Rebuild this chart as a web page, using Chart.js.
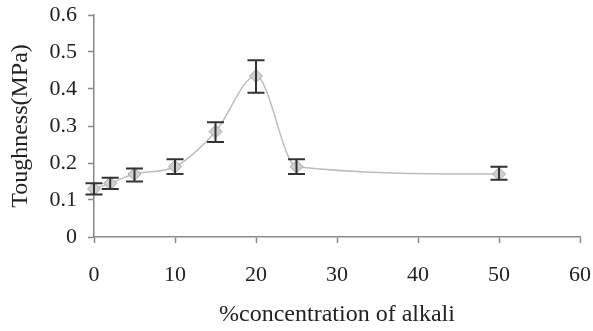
<!DOCTYPE html>
<html><head><meta charset="utf-8">
<script src="https://cdn.jsdelivr.net/npm/chart.js@4/dist/chart.umd.min.js"></script>
<style>html,body{margin:0;padding:0;background:#fff}#wrap{width:593px;height:331px}</style>
</head><body><div id="wrap"><canvas id="c" width="593" height="331"></canvas></div>
<script>
const concentration = [0, 2, 5, 10, 15, 20, 25, 50];
const toughness = [0.13, 0.145, 0.17, 0.19, 0.285, 0.435, 0.19, 0.17];
const errHigh = [0.145, 0.16, 0.185, 0.21, 0.31, 0.478, 0.21, 0.19];
const errLow = [0.115, 0.13, 0.15, 0.17, 0.257, 0.39, 0.17, 0.155];
const xTicks = [0, 10, 20, 30, 40, 50, 60];
const yTicks = [0, 0.1, 0.2, 0.3, 0.4, 0.5, 0.6];

const errorBars = {
  id: 'errorBars',
  afterDatasetsDraw(chart) {
    const ctx = chart.ctx, xs = chart.scales.x, ys = chart.scales.y;
    ctx.save();
    ctx.strokeStyle = '#333';
    ctx.lineWidth = 2;
    concentration.forEach((c, i) => {
      const x = xs.getPixelForValue(c);
      const yH = ys.getPixelForValue(errHigh[i]);
      const yL = ys.getPixelForValue(errLow[i]);
      ctx.beginPath();
      ctx.moveTo(x, yH); ctx.lineTo(x, yL);
      ctx.moveTo(x - 8.5, yH); ctx.lineTo(x + 8.5, yH);
      ctx.moveTo(x - 8.5, yL); ctx.lineTo(x + 8.5, yL);
      ctx.stroke();
    });
    ctx.restore();
  }
};

const family = '"Liberation Serif", "Times New Roman", serif';
const tickFont = {family, size: 22};
const titleFont = {family, size: 24};
new Chart(document.getElementById('c'), {
  type: 'line',
  data: {
    datasets: [{
      data: concentration.map((c, i) => ({x: c, y: toughness[i]})),
      borderColor: '#bdbdbd',
      borderWidth: 1.5,
      cubicInterpolationMode: 'monotone',
      clip: false,
      pointStyle: 'rectRot',
      pointRadius: 6.5,
      pointBackgroundColor: '#cfcfcf',
      pointBorderColor: '#a8a8a8',
      pointBorderWidth: 1
    }]
  },
  options: {
    responsive: false,
    animation: false,
    layout: {padding: {left: 0, right: 13, top: 15, bottom: 0}},
    plugins: {legend: {display: false}, tooltip: {enabled: false}},
    scales: {
      x: {
        type: 'linear', min: 0, max: 60,
        afterBuildTicks: s => { s.ticks = xTicks.map(v => ({value: v})); },
        afterFit: s => { s.height = 94; s.paddingLeft = 0; s.paddingRight = 0; },
        border: {color: '#8a8a8a', width: 1.5},
        grid: {drawOnChartArea: false, tickLength: 6, color: '#8a8a8a', tickWidth: 1.5},
        ticks: {font: tickFont, color: '#222', padding: 19, maxRotation: 0},
        title: {display: true, text: '%concentration of alkali', font: titleFont, color: '#222', padding: {top: 10, bottom: 2}}
      },
      y: {
        min: 0, max: 0.6,
        afterBuildTicks: s => { s.ticks = yTicks.map(v => ({value: v})); },
        afterFit: s => { s.width = 94; s.paddingTop = 0; s.paddingBottom = 0; },
        border: {color: '#8a8a8a', width: 1.5},
        grid: {drawOnChartArea: false, tickLength: 6, color: '#8a8a8a', tickWidth: 1.5},
        ticks: {font: tickFont, color: '#222', padding: 11, callback: v => String(Math.round(v * 10) / 10)},
        title: {display: true, text: 'Toughness(MPa)', font: titleFont, color: '#222', padding: {top: 6, bottom: 0}}
      }
    }
  },
  plugins: [errorBars]
});
</script></body></html>
